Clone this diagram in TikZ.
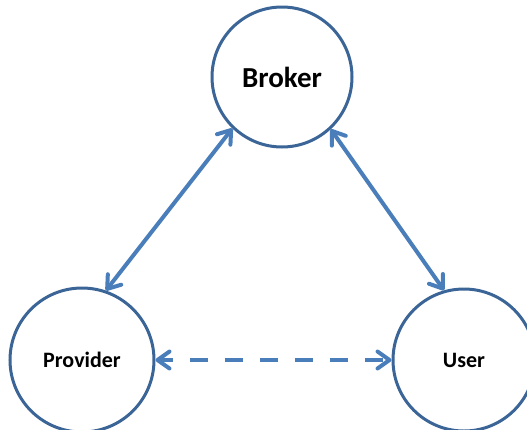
\documentclass[tikz,border=0pt]{standalone}
\usepackage{fontspec}
\setmainfont{Carlito}
\usetikzlibrary{arrows.meta}

\definecolor{ringblue}{HTML}{3A6596}
\definecolor{linkblue}{HTML}{4A7EBB}

\tikzset{
  barb/.tip={Straight Barb[length=12pt,width=17pt,line cap=round,line join=round]},
}

\begin{document}
\begin{tikzpicture}[x=1pt,y=-1pt]

        \useasboundingbox (0,0) rectangle (527,429);
        \clip (0,0) rectangle (527,429);

        \begin{scope}[every node/.style={circle,draw=ringblue,line width=3pt,inner sep=0pt}]
          \node[minimum size=140pt,font=\bfseries\fontsize{29}{34}\selectfont] (broker)   at (282,77)  {Broker};
          \node[minimum size=144pt,font=\bfseries\fontsize{22}{26}\selectfont] (provider) at (82,360)  {Provider};
          \node[minimum size=142pt,font=\bfseries\fontsize{22}{26}\selectfont] (user)     at (464,360) {User};
        \end{scope}

        \begin{scope}[every edge/.style={draw=linkblue,line width=4pt,barb-barb}]
          \path (broker.226) edge (provider.71);
          \path (broker.313) edge (user.106);
          \path (provider.east) edge[style={dash pattern=on 18pt off 17pt,dash phase=5pt}] (user.west);
        \end{scope}

      \end{tikzpicture}
\end{document}
